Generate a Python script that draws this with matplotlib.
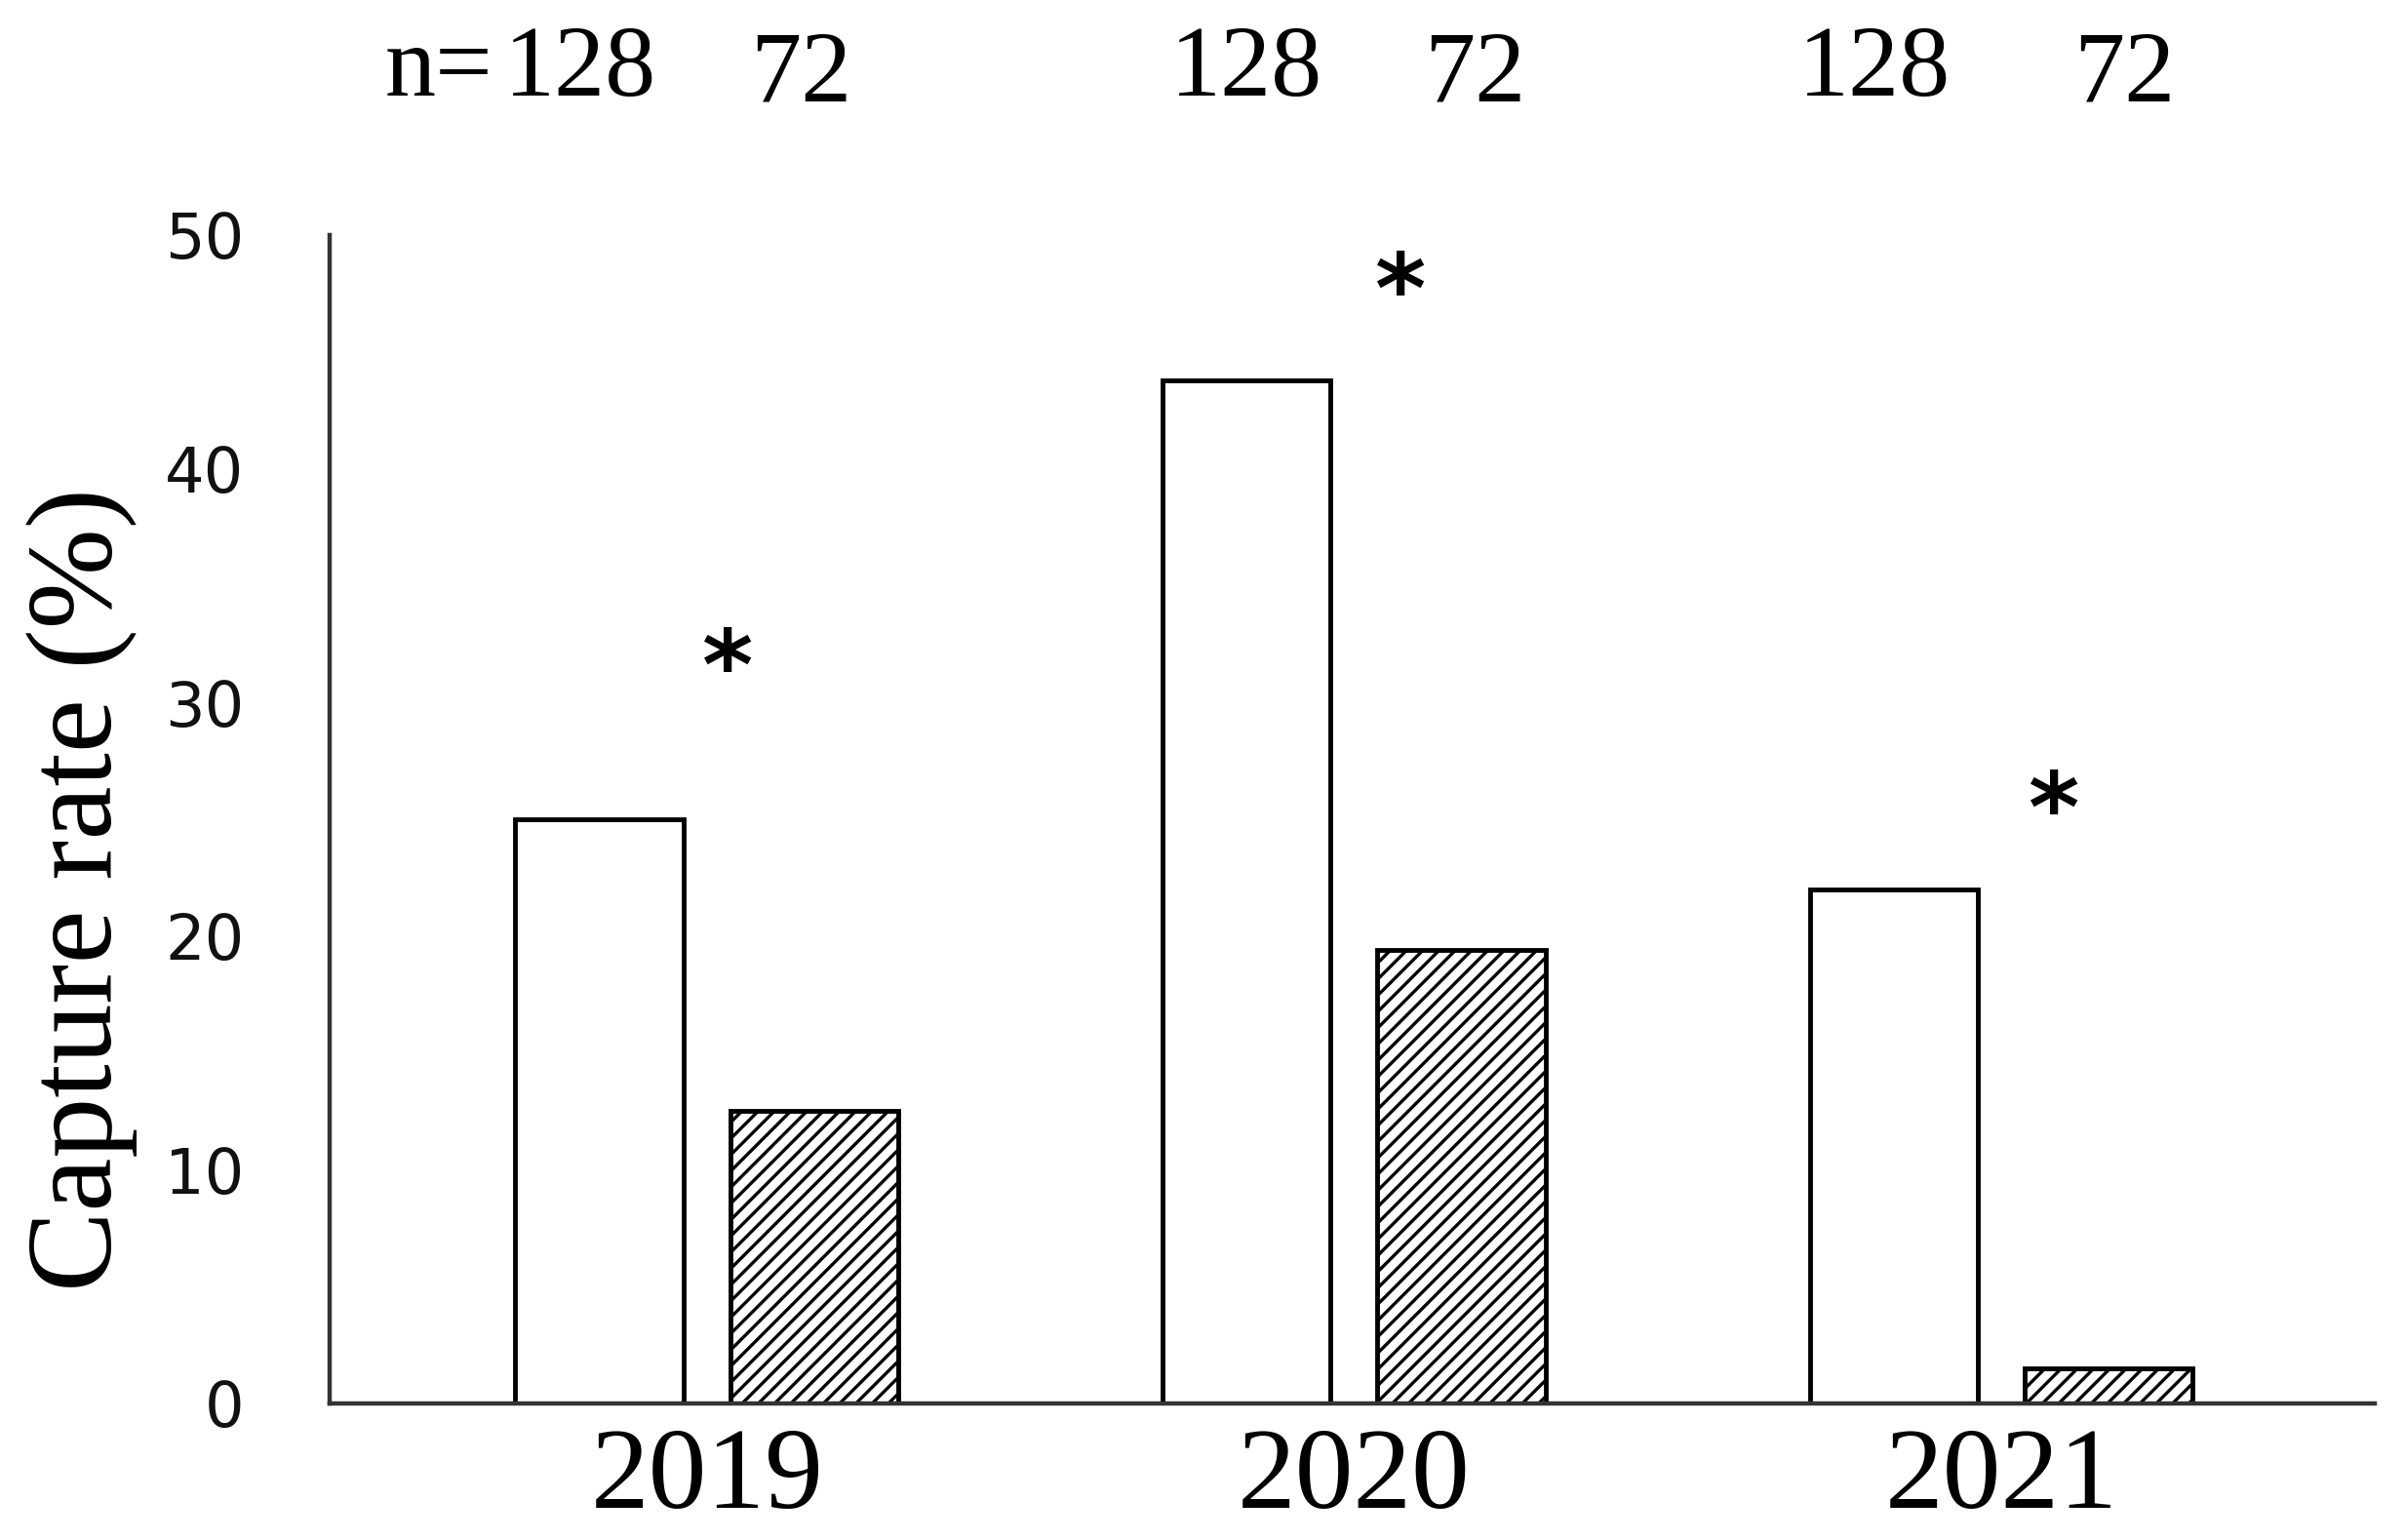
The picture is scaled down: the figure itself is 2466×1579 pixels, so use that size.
import matplotlib
matplotlib.use('Agg')
import matplotlib.pyplot as plt
import numpy as np

plt.rcParams['font.family'] = 'DejaVu Sans'
plt.rcParams['hatch.linewidth'] = 2.4
plt.rcParams['hatch.color'] = '#2a2a2a'

SERIF = 'Liberation Serif'

years     = ['2019', '2020', '2021']
white_val = [25.0, 43.8, 22.0]
hatch_val = [12.5, 19.4, 1.5]
n_white   = ['128', '128', '128']
n_hatch   = ['72', '72', '72']
star_x    = [0.03, 0.07, 0.08]     # offset from group centre
star_y    = [31.3, 47.4, 25.2]

x = np.arange(len(years))
w = 0.26
off = 0.166
# small nudges of the n= labels, as in the source figure
nw_dx = [-0.03, 0.0, -0.03]
nh_dx = [-0.02, 0.02, 0.024]

fig = plt.figure(figsize=(24.66, 15.79), dpi=100)
ax = fig.add_axes([0.137, 0.0887, 0.8504, 0.7587])

ax.bar(x - off, white_val, w, color='white', edgecolor='black', linewidth=3.5)
ax.bar(x + off, hatch_val, w, color='white', edgecolor='black', linewidth=3.5,
       hatch='//')

ax.set_xlim(-0.583, 2.577)
ax.set_ylim(0, 50)
ax.set_yticks([0, 10, 20, 30, 40, 50])
ax.set_xticks(x)
ax.set_xticklabels(years, fontfamily=SERIF, fontsize=86)
ax.tick_params(axis='y', length=0, pad=63, labelsize=46, labelcolor='#111111')
ax.tick_params(axis='x', length=0, pad=18)

for s in ('top', 'right'):
    ax.spines[s].set_visible(False)
for s in ('left', 'bottom'):
    ax.spines[s].set_linewidth(3.2)
    ax.spines[s].set_color('#333333')

ax.set_ylabel('Capture rate (%)', fontfamily=SERIF, fontsize=89)
ax.yaxis.set_label_coords(-0.094, 0.44)

# sample sizes above the plot
for i in range(len(years)):
    ax.text(x[i] - off + nw_dx[i], 57.0, n_white[i], ha='center', va='center',
            fontfamily=SERIF, fontsize=75, clip_on=False)
    ax.text(x[i] + off + nh_dx[i], 56.8, n_hatch[i], ha='center', va='center',
            fontfamily=SERIF, fontsize=75, clip_on=False)
ax.text(x[0] - off + nw_dx[0] - 0.135, 57.0, 'n=', ha='right', va='center',
        fontfamily=SERIF, fontsize=75, clip_on=False)

# significance marks
for i in range(len(years)):
    ax.text(x[i] + star_x[i], star_y[i], '*', ha='center', va='center',
            fontsize=72, fontweight='bold')

fig.savefig('out.png', dpi=100, facecolor='white')
